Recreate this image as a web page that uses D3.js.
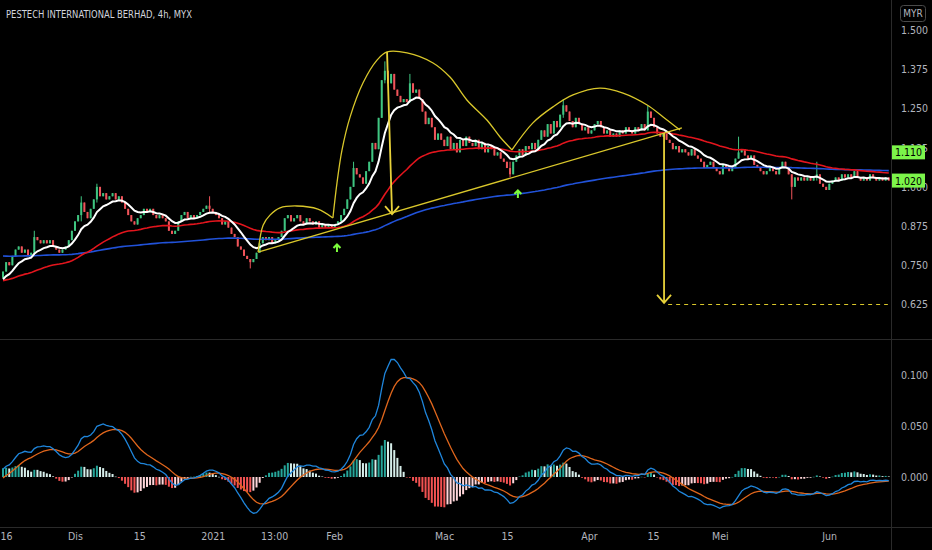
<!DOCTYPE html>
<html>
<head>
<meta charset="utf-8">
<script src="https://cdn.jsdelivr.net/npm/d3@7"></script>
<style>
  body { margin: 0; background: #000; }
  svg { display: block; }
  text { font-family: "DejaVu Sans Condensed", "DejaVu Sans", sans-serif; font-stretch: condensed; }
</style>
</head>
<body>
<svg id="chart"></svg>
<script>
// Closing prices of each 4h bar, split by month
var closesNov = [0.73,0.76,0.75,0.78,0.80,0.81,0.79,0.80,0.78,0.79,
  0.84,0.83,0.82,0.83,0.82,0.83,0.81,0.80,0.79,0.80,0.81,0.83,0.86];
var closesDec = [0.89,0.91,0.95,0.92,0.90,0.93,0.96,
  1.00,0.97,0.98,0.96,0.97,0.98,0.96,0.97,0.95,0.93,
  0.91,0.89,0.88,0.90,0.91,0.93,0.92,0.93,0.91,0.90,
  0.91,0.90,0.89,0.86,0.85,0.86,0.89,0.91,0.92,0.90,
  0.91,0.90,0.91,0.92,0.93,0.94,0.93];
var closesJan = [0.92,0.91,0.90,
  0.88,0.89,0.87,0.85,0.84,0.81,0.80,0.78,0.77,0.76,
  0.77,0.79,0.82,0.84,0.83,0.84,0.82,0.83,0.84,0.86,
  0.90,0.91,0.89,0.90,0.91,0.89,0.88,0.90,0.89,0.88,
  0.89,0.87,0.88,0.87,0.88,0.87];
var closesFeb = [0.88,0.89,0.91,0.93,
  0.96,1.00,1.06,1.04,1.03,1.01,1.05,1.08,1.14,1.12,
  1.22,1.34,1.37,1.33,1.36,1.31,1.29,1.27,1.28,1.27,
  1.33,1.30,1.31,1.28,1.24,1.20,1.22,1.19,1.15,1.17,
  1.15];
var closesMar = [1.13,1.16,1.12,1.14,1.11,1.15,1.13,1.16,1.14,
  1.13,1.15,1.12,1.14,1.11,1.13,1.12,1.10,1.11,1.09,
  1.08,1.06,1.04,1.08,1.10,1.12,1.10,1.13,1.12,1.14,
  1.12,1.15,1.18,1.16,1.20,1.17,1.21,1.19,1.23,1.26,
  1.24,1.21,1.19,1.22,1.20,1.18,1.19];
var closesApr = [1.17,1.18,1.20,
  1.21,1.19,1.17,1.18,1.16,1.17,1.16,1.18,1.17,1.19,
  1.18,1.17,1.19,1.18,1.20,1.18,1.24,1.22,1.19,1.17,
  1.16,1.17,1.15,1.14,1.12,1.13,1.11,1.12,1.11,1.10,
  1.12,1.10,1.09,1.08,1.06,1.07,1.08,1.06,1.05];
var closesMay = [1.04,
  1.07,1.06,1.05,1.06,1.09,1.11,1.12,1.10,1.09,1.10,
  1.07,1.06,1.05,1.04,1.05,1.06,1.05,1.04,1.06,1.08,
  1.06,1.04,1.00,1.03,1.02,1.03,1.02,1.03,1.02,1.03,
  1.04,1.01,1.00,0.99];
var closesJun = [1.01,1.02,1.03,1.02,1.04,1.03,
  1.04,1.03,1.05,1.03,1.02,1.03,1.02,1.04,1.03,1.02,
  1.03,1.02,1.03,1.02];
var firstOpen = 0.71;

// Bars with visible wicks: [bar, high, low]
var wicks = [[10,0.86,0.79],[25,0.97,0.89],[30,1.01,0.95],[66,0.97,0.92],
  [79,0.77,0.74],[112,1.08,1.00],[122,1.40,1.33],[130,1.36,1.27],
  [162,1.08,1.03],[179,1.28,1.22],[206,1.26,1.18],[235,1.16,1.09],
  [252,1.04,0.96],[260,1.08,1.02]];

// Moving averages (white, red, blue): periods and starting values read at the left edge
var maPeriods = [10, 50, 200];
var maSeeds = [0.70, 0.70, 0.78];
// MACD 12/26/9 starting values
var macdPeriods = [12, 26, 9];
var macdSeeds = [0.715, 0.708, -0.003];

// Axis ticks
var priceTicks = [0.625, 0.750, 0.875, 1.000, 1.125, 1.250, 1.375, 1.500];
var macdTicks = [0.000, 0.050, 0.100];
var timeTickBars = [1, 23, 43.5, 67, 86.6, 105.8, 140.9, 161, 187.2, 207.7, 229, 263.9];
var timeTickLabels = ["16", "Dis", "15", "2021", "13:00", "Feb", "Mac", "15", "Apr", "15", "Mei", "Jun"];
// Price flags on the right axis
var flagPrices = [1.110, 1.020];

// Drawings, in [bar, price]
var arcSmall = [[81.5,0.792],[83.1,0.878],[85.3,0.910],[88.5,0.933],[93.9,0.939],[100.6,0.929],[105.4,0.901]];
var arcHead = [[105.4,0.901],[106.7,1.012],[108.3,1.117],[110.9,1.223],[115.0,1.331],[119.5,1.404],
  [122.7,1.430],[129.1,1.427],[137.4,1.395],[142.8,1.350],[148.2,1.277],[154.6,1.213],[158.8,1.159],[162.6,1.118]];
var arcRight = [[162.6,1.118],[169.3,1.204],[175.7,1.255],[182.1,1.293],[190.7,1.315],[198.1,1.299],
  [205.8,1.261],[210.9,1.223],[216.3,1.181]];
var neckline = [[81.5,0.792],[216.9,1.188]];
var arrowHeadMove = [[122.7,1.430],[124.3,0.913]];
var arrowTarget = [[211.2,1.172],[211.2,0.630]];
var targetLine = [[212.5,0.625],[282.7,0.625]];
var signalArrows = [[106.7,0.818],[164.5,0.990]];

var width = 932, height = 550;
var axisX = 891;

var closes = [].concat(closesNov, closesDec, closesJan, closesFeb, closesMar, closesApr, closesMay, closesJun);

// build OHLC from closes
var bars = closes.map(function(c, i) {
  var o = i === 0 ? firstOpen : closes[i - 1];
  return { i: i, o: o, c: c, h: Math.max(o, c), l: Math.min(o, c) };
});
wicks.forEach(function(w) {
  bars[w[0]].h = Math.max(bars[w[0]].h, w[1]);
  bars[w[0]].l = Math.min(bars[w[0]].l, w[2]);
});

function ema(values, period, seed) {
  var k = 2 / (period + 1), prev = seed;
  return values.map(function(v) {
    prev = prev + k * (v - prev);
    return prev;
  });
}

var maLines = maPeriods.map(function(p, k) { return ema(closes, p, maSeeds[k]); });
var emaFast = ema(closes, macdPeriods[0], macdSeeds[0]);
var emaSlow = ema(closes, macdPeriods[1], macdSeeds[1]);
var macd = emaFast.map(function(v, i) { return v - emaSlow[i]; });
var signal = ema(macd, macdPeriods[2], macdSeeds[2]);
var hist = macd.map(function(v, i) { return v - signal[i]; });

// Chart set-up
var svg = d3.select("#chart").attr("width", width).attr("height", height)
  .style("background", "#000");

var x = d3.scaleLinear().domain([0, closes.length - 1]).range([3, 3 + (closes.length - 1) * 3.13]);
var y = d3.scaleLinear().domain([0.625, 1.5]).range([304.5, 30]);
var yM = d3.scaleLinear().domain([0, 0.1]).range([477, 375]);

var defs = svg.append("defs");
defs.append("clipPath").attr("id", "clipPrice")
  .append("rect").attr("x", 0).attr("y", 0).attr("width", axisX).attr("height", 339);
defs.append("clipPath").attr("id", "clipMacd")
  .append("rect").attr("x", 0).attr("y", 341).attr("width", axisX).attr("height", 185);

// pane separators
svg.append("line").attr("x1", 0).attr("x2", width).attr("y1", 339.5).attr("y2", 339.5)
  .attr("stroke", "#2a2a2a");
svg.append("line").attr("x1", 0).attr("x2", width).attr("y1", 527.5).attr("y2", 527.5)
  .attr("stroke", "#2a2a2a");
svg.append("line").attr("x1", axisX + 0.5).attr("x2", axisX + 0.5).attr("y1", 0).attr("y2", height)
  .attr("stroke", "#2a2a2a");

var upColor = "#3fc581", downColor = "#f0545a";

// Price pane
var pricePane = svg.append("g").attr("clip-path", "url(#clipPrice)");

pricePane.selectAll("line.wick")
  .data(bars)
  .enter()
  .append("line")
  .attr("class", "wick")
  .attr("x1", function(d) { return x(d.i); })
  .attr("x2", function(d) { return x(d.i); })
  .attr("y1", function(d) { return y(d.h); })
  .attr("y2", function(d) { return y(d.l); })
  .attr("stroke", function(d) { return d.c >= d.o ? upColor : downColor; })
  .attr("stroke-width", 1);

pricePane.selectAll("rect.body")
  .data(bars)
  .enter()
  .append("rect")
  .attr("class", "body")
  .attr("x", function(d) { return x(d.i) - 1; })
  .attr("width", 2)
  .attr("y", function(d) { return y(Math.max(d.o, d.c)); })
  .attr("height", function(d) { return Math.max(1, Math.abs(y(d.o) - y(d.c))); })
  .attr("fill", function(d) { return d.c >= d.o ? upColor : downColor; });

var maColors = ["#ffffff", "#e3151d", "#2152d9"];
var maWidths = [2, 1.6, 1.6];
var maLine = d3.line().x(function(d, i) { return x(i); }).y(function(d) { return y(d); });
[2, 1, 0].forEach(function(k) {
  pricePane.append("path")
    .datum(maLines[k])
    .attr("d", maLine)
    .attr("fill", "none")
    .attr("stroke", maColors[k])
    .attr("stroke-width", maWidths[k]);
});

// Drawings
var drawColor = "#d9c72b";
var pt = d3.line().x(function(d) { return x(d[0]); }).y(function(d) { return y(d[1]); });
var curvePt = d3.line().x(function(d) { return x(d[0]); }).y(function(d) { return y(d[1]); })
  .curve(d3.curveCatmullRom.alpha(0.5));
[arcSmall, arcHead, arcRight].forEach(function(arc) {
  pricePane.append("path").datum(arc).attr("d", curvePt)
    .attr("fill", "none").attr("stroke", drawColor).attr("stroke-width", 1.3);
});
pricePane.append("path").datum(neckline).attr("d", pt)
  .attr("fill", "none").attr("stroke", drawColor).attr("stroke-width", 1.3);

function arrow(seg) {
  pricePane.append("path").datum(seg).attr("d", pt)
    .attr("fill", "none").attr("stroke", "#e8d23a").attr("stroke-width", 1.8);
  var tx = x(seg[1][0]), ty = y(seg[1][1]);
  pricePane.append("path")
    .attr("d", "M" + (tx - 7) + "," + (ty - 8) + "L" + tx + "," + ty + "L" + (tx + 7) + "," + (ty - 8))
    .attr("fill", "none").attr("stroke", "#e8d23a").attr("stroke-width", 1.8);
}
arrow(arrowHeadMove);
arrow(arrowTarget);

pricePane.append("path").datum(targetLine).attr("d", pt)
  .attr("fill", "none").attr("stroke", drawColor).attr("stroke-width", 1.2)
  .attr("stroke-dasharray", "4,4");

signalArrows.forEach(function(a) {
  var ax = x(a[0]), ay = y(a[1]);
  pricePane.append("path")
    .attr("d", "M" + ax + "," + (ay + 8) + "L" + ax + "," + (ay + 1) +
      "M" + (ax - 3.5) + "," + (ay + 4) + "L" + ax + "," + (ay + 0.5) + "L" + (ax + 3.5) + "," + (ay + 4))
    .attr("fill", "none").attr("stroke", "#7cfc3c").attr("stroke-width", 2);
});

// MACD pane
var macdPane = svg.append("g").attr("clip-path", "url(#clipMacd)");
macdPane.selectAll("rect.hist")
  .data(hist)
  .enter()
  .append("rect")
  .attr("class", "hist")
  .attr("x", function(d, i) { return x(i) - 1; })
  .attr("width", 2)
  .attr("y", function(d) { return d >= 0 ? yM(d) : yM(0); })
  .attr("height", function(d) { return Math.max(0.5, Math.abs(yM(d) - yM(0))); })
  .attr("fill", function(d, i) {
    var prev = i === 0 ? d : hist[i - 1];
    if (d >= 0) return d >= prev ? "#26a69a" : "#d6eeea";
    return d <= prev ? "#f25252" : "#ffd6da";
  });

var mLine = d3.line().x(function(d, i) { return x(i); }).y(function(d) { return yM(d); });
macdPane.append("path").datum(signal).attr("d", mLine)
  .attr("fill", "none").attr("stroke", "#e0661c").attr("stroke-width", 1.3);
macdPane.append("path").datum(macd).attr("d", mLine)
  .attr("fill", "none").attr("stroke", "#1f86dc").attr("stroke-width", 1.3);

// Axes
var axisColor = "#b2b5be";
var priceAxis = svg.append("g")
  .attr("transform", "translate(" + axisX + ",0)")
  .call(d3.axisRight(y).tickValues(priceTicks).tickFormat(d3.format(".3f")).tickSize(0).tickPadding(10));
var macdAxis = svg.append("g")
  .attr("transform", "translate(" + axisX + ",0)")
  .call(d3.axisRight(yM).tickValues(macdTicks).tickFormat(d3.format(".3f")).tickSize(0).tickPadding(10));
var timeAxis = svg.append("g")
  .attr("transform", "translate(0,527)")
  .call(d3.axisBottom(x).tickValues(timeTickBars)
    .tickFormat(function(d, k) { return timeTickLabels[k]; }).tickSize(0).tickPadding(6));

[priceAxis, macdAxis, timeAxis].forEach(function(g) {
  g.select(".domain").remove();
  g.selectAll("text").attr("fill", axisColor).style("font-size", "10.5px");
});

// Price flags (drawn over the 1.125 and 1.000 labels, as on the original)
flagPrices.forEach(function(p) {
  var fy = y(p);
  svg.append("rect").attr("x", axisX + 1).attr("y", fy - 7).attr("width", 33).attr("height", 14)
    .attr("fill", "#7cf54a");
  svg.append("text").attr("x", axisX + 17.5).attr("y", fy + 4).attr("text-anchor", "middle")
    .attr("fill", "#000").style("font-size", "10.5px").text(d3.format(".3f")(p));
});

// Currency box
svg.append("rect").attr("x", 900.5).attr("y", 5.5).attr("width", 25).attr("height", 16).attr("rx", 3)
  .attr("fill", "#000").attr("stroke", "#4a4a4a");
svg.append("text").attr("x", 913).attr("y", 17).attr("text-anchor", "middle")
  .attr("fill", axisColor).style("font-size", "10px").text("MYR");

// Title
svg.append("text").attr("x", 6).attr("y", 18)
  .attr("fill", "#d1d4dc").style("font-size", "11px")
  .attr("textLength", 186).attr("lengthAdjust", "spacingAndGlyphs")
  .text("PESTECH INTERNATIONAL BERHAD, 4h, MYX");
</script>
</body>
</html>
